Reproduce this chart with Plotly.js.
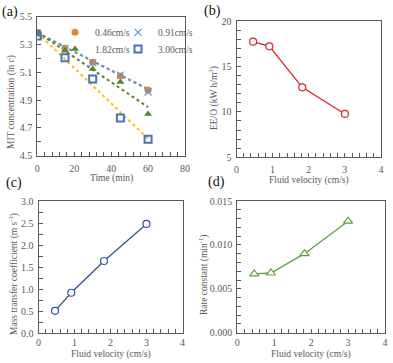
<!DOCTYPE html>
<html>
<head>
<meta charset="utf-8">
<script src="https://cdn.plot.ly/plotly-3.0.1.min.js"></script>
<style>
  html, body { margin: 0; padding: 0; background: #fff; }
  #chart { width: 393px; height: 363px; }
</style>
</head>
<body>
<div id="chart"></div>
<script>
// (a) ln c versus time for each fluid velocity
const timeMin = [0, 15, 30, 45, 60];
const lnC046 = [5.388, 5.273, 5.172, 5.073, 4.973];
const lnC091 = [5.380, 5.270, 5.170, 5.080, 4.958];
const lnC182 = [5.370, 5.255, 5.124, 5.030, 4.800];
const lnC300 = [5.361, 5.205, 5.052, 4.771, 4.618];
const seriesNames = ['0.46cm/s', '0.91cm/s', '1.82cm/s', '3.00cm/s'];

// linear fits of ln c: intercepts, slopes are the rate constants of (d)
const fitIntercept = [5.382, 5.385, 5.389, 5.385];
const fitSpan = [0, 60];

// (b)-(d) versus fluid velocity
const velocity = [0.46, 0.91, 1.82, 3.00];
const eeo = [17.72, 17.21, 12.70, 9.77];
const massTransfer = [0.51, 0.92, 1.64, 2.48];
const rateConstant = [0.0067, 0.0068, 0.0090, 0.0127];

const FONT = '"Liberation Serif", "Times New Roman", serif';
const GREY = '#595959';
const W = 393, H = 363;

const px = v => v / W;
const py = v => 1 - v / H;

function axis(domain, range, dtick, minorDtick, anchor, fmt, standoff) {
  return {
    domain: domain, range: range, dtick: dtick, tick0: range[0],
    tickformat: fmt, anchor: anchor,
    showline: true, mirror: true, linecolor: GREY, linewidth: 1,
    ticks: 'inside', ticklen: 4, tickcolor: GREY, tickwidth: 1,
    ticklabelstandoff: standoff,
    minor: { dtick: minorDtick, ticks: 'inside', ticklen: 4, tickcolor: GREY, tickwidth: 1 },
    showgrid: false, zeroline: false, fixedrange: true,
    tickfont: { family: FONT, size: 10, color: GREY }
  };
}

const markerColors = ['#ED7D31', '#5B9BD5', '#548235', '#4472C4'];
const fitColors = ['#ED7D31', '#5B9BD5', '#548235', '#FFC000'];
const lnSeries = [lnC046, lnC091, lnC182, lnC300];
const symbols = ['circle', 'x-thin-open', 'triangle-up', 'square-open'];
const legendIds = ['legend', 'legend2', 'legend3', 'legend4'];

const traces = [];

// trendlines under the markers
[0, 1, 2, 3].forEach(i => {
  traces.push({
    x: fitSpan,
    y: fitSpan.map(t => fitIntercept[i] - rateConstant[i] * t),
    mode: 'lines', xaxis: 'x', yaxis: 'y', showlegend: false, hoverinfo: 'skip',
    line: { color: fitColors[i], width: 2, dash: 'dot' }
  });
});

[0, 1, 2, 3].forEach(i => {
  traces.push({
    x: timeMin, y: lnSeries[i], name: seriesNames[i],
    mode: 'markers', xaxis: 'x', yaxis: 'y',
    legend: legendIds[i],
    marker: {
      symbol: symbols[i], size: 7, color: markerColors[i],
      line: { color: markerColors[i], width: i === 3 ? 2 : (i === 1 ? 1.2 : 0) }
    }
  });
});

traces.push({
  x: velocity, y: eeo, mode: 'lines+markers', xaxis: 'x2', yaxis: 'y2', showlegend: false,
  line: { color: '#D62828', width: 1.3 },
  marker: { symbol: 'circle', size: 7, color: '#fff', line: { color: '#D62828', width: 1.2 } }
});
traces.push({
  x: velocity, y: massTransfer, mode: 'lines+markers', xaxis: 'x3', yaxis: 'y3', showlegend: false,
  line: { color: '#2F5597', width: 1.3 },
  marker: { symbol: 'circle', size: 7, color: '#fff', line: { color: '#2F5597', width: 1.2 } }
});
traces.push({
  x: velocity, y: rateConstant, mode: 'lines+markers', xaxis: 'x4', yaxis: 'y4', showlegend: false,
  line: { color: '#5E9E3A', width: 1.3 },
  marker: { symbol: 'triangle-up', size: 8, color: '#fff', line: { color: '#5E9E3A', width: 1.2 } }
});

function label(text, x, y, size, color) {
  return { text: text, x: px(x), y: py(y), xref: 'paper', yref: 'paper', showarrow: false,
           xanchor: 'center', yanchor: 'middle', font: { family: FONT, size: size, color: color } };
}
function vlabel(text, x, y) {
  const a = label(text, x, y, 9.5, GREY);
  a.textangle = -90;
  return a;
}

function legendAt(x, y) {
  return {
    orientation: 'h', xref: 'paper', yref: 'paper', xanchor: 'left', yanchor: 'middle',
    x: px(x), y: py(y),
    bgcolor: 'rgba(0,0,0,0)', borderwidth: 0, itemwidth: 30,
    font: { family: FONT, size: 9.5, color: GREY }
  };
}

const layout = {
  width: W, height: H, margin: { l: 0, r: 0, t: 0, b: 0 },
  paper_bgcolor: '#fff', plot_bgcolor: '#fff',
  xaxis: axis([px(37.3), px(185)], [0, 80], 20, 4, 'y', 'd', 3),
  yaxis: axis([py(155.7), py(16.7)], [4.5, 5.5], 0.2, 0.1, 'x', '.1f', 2),
  xaxis2: axis([px(236.5), px(381)], [0, 4], 1, 0.2, 'y2', 'd', 3),
  yaxis2: axis([py(157.3), py(21)], [5, 20], 5, 1, 'x2', 'd', 2),
  xaxis3: axis([px(38.5), px(182.5)], [0, 4], 1, 0.2, 'y3', 'd', 2.5),
  yaxis3: axis([py(333.3), py(201)], [0, 3], 0.5, 0.25, 'x3', '.1f', 2),
  xaxis4: axis([px(237.3), px(385)], [0, 4], 1, 0.2, 'y4', 'd', 2.5),
  yaxis4: axis([py(332.7), py(201)], [0, 0.015], 0.005, 0.001, 'x4', '.3f', 2),
  legend: legendAt(55, 32.3),
  legend2: legendAt(118, 32.3),
  legend3: legendAt(55, 49),
  legend4: legendAt(118, 49),
  showlegend: true,
  annotations: [
    label('(a)', 10, 12, 14, '#111'),
    label('(b)', 212, 11, 14, '#111'),
    label('(c)', 14, 183, 14, '#111'),
    label('(d)', 216, 182, 14, '#111'),
    label('Time (min)', 111, 178, 9.5, GREY),
    label('Fluid velocity (cm/s)', 309, 180, 9.5, GREY),
    label('Fluid velocity (cm/s)', 111, 354, 9.5, GREY),
    label('Fluid velocity (cm/s)', 311, 354, 9.5, GREY),
    vlabel('MIT concentration (ln <i>c</i>)', 12, 102),
    vlabel('EE/O (kW h/m<sup>3</sup>)', 213, 98),
    vlabel('Mass transfer coefficient (m s<sup>-1</sup>)', 13, 274),
    vlabel('Rate constant (min<sup>-1</sup>)', 203, 275)
  ]
};

Plotly.newPlot('chart', traces, layout, { staticPlot: true, displayModeBar: false });
</script>
</body>
</html>
